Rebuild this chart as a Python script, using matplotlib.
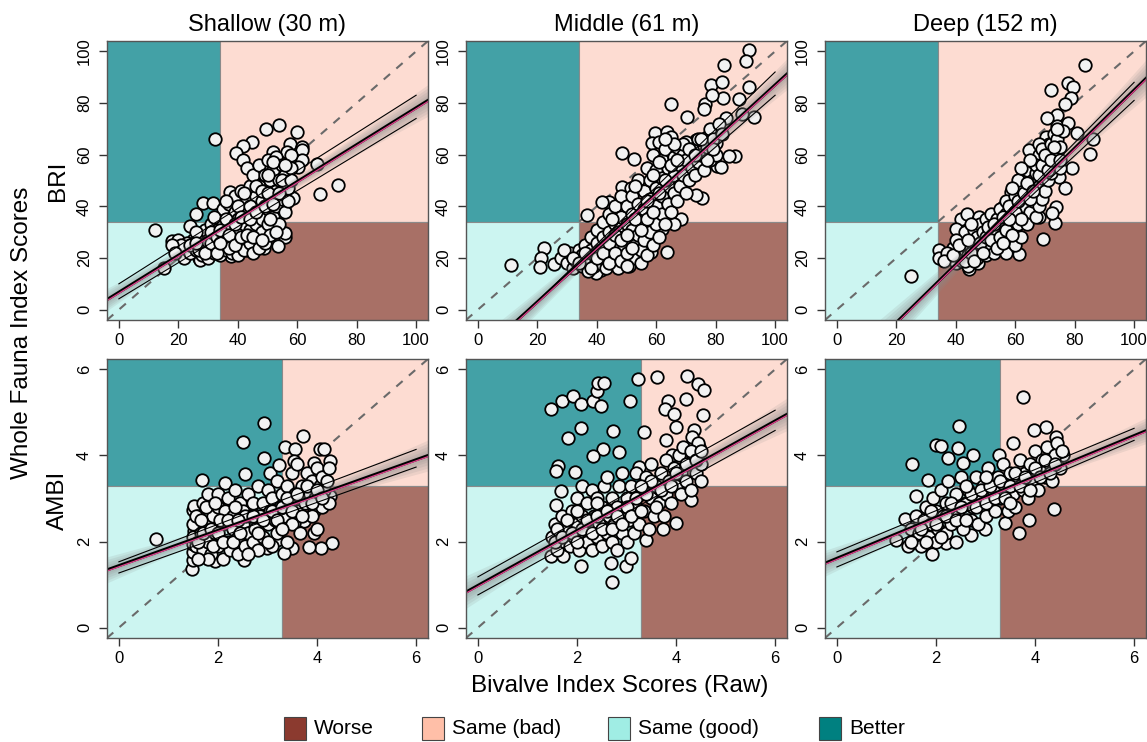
import matplotlib.pyplot as plt
import matplotlib.transforms as mtransforms
from matplotlib.patches import Rectangle
import numpy as np

plt.rcParams['font.family'] = ['Liberation Sans', 'DejaVu Sans']

depths = ['Shallow (30 m)', 'Middle (61 m)', 'Deep (152 m)']
indices = ['BRI', 'AMBI']
thresholds = [34, 3.3]
axis_ranges = [(0, 100, 20), (0, 6, 2)]

# site scores: (bivalve index, whole fauna index)
bri_shallow = [
    (32.4, 65.9), (12.3, 30.9), (15.1, 16.1), (49.4, 69.8), (53.9, 71.4), (59.8, 68.6),
    (44.7, 65.0), (41.9, 63.3), (39.4, 60.7), (57.6, 64.0), (61.5, 63.0), (61.7, 61.8),
    (61.5, 57.9), (67.7, 44.7), (73.8, 48.3), (66.6, 56.2), (58.7, 43.4), (55.9, 28.3),
    (53.4, 24.7), (48.7, 23.8), (37.5, 45.7), (28.2, 41.4), (31.5, 41.4), (26.1, 36.9),
    (24.0, 32.2), (17.9, 26.4), (20.0, 27.0), (21.8, 19.9), (26.8, 19.9), (27.4, 19.3),
    (37.8, 20.8), (43.1, 23.2), (43.1, 43.1), (41.9, 57.9), (51.8, 61.1), (54.3, 55.6),
    (56.5, 61.1), (60.2, 55.3), (48.7, 54.7), (46.4, 50.2), (49.2, 50.2), (54.3, 51.5),
    (52.0, 47.6), (50.9, 37.3), (55.4, 39.3), (55.9, 29.6),
    (22, 24), (24, 22), (25, 27), (26, 23), (27, 29), (28, 21), (28, 25), (29, 31), (30, 20),
    (30, 24), (30, 27), (31, 33), (32, 22), (32, 29), (33, 25), (33, 31), (34, 36), (34, 21),
    (35, 27), (35, 33), (35, 39), (36, 23), (36, 30), (37, 35), (37, 41), (38, 22), (38, 27),
    (38, 32), (39, 38), (39, 44), (40, 21), (40, 25), (40, 30), (40, 35), (41, 40), (41, 46),
    (42, 23), (42, 28), (42, 33), (43, 37), (43, 42), (43, 55), (44, 26), (44, 31), (44, 48),
    (45, 22), (45, 35), (45, 40), (45, 52), (46, 28), (46, 33), (46, 44), (47, 24), (47, 38),
    (47, 48), (47, 56), (48, 30), (48, 35), (48, 42), (49, 26), (49, 46), (49, 52), (50, 33),
    (50, 39), (50, 58), (51, 29), (51, 43), (51, 50), (52, 36), (52, 54), (53, 40), (53, 46),
    (53, 59), (54, 33), (54, 50), (55, 43), (55, 56), (56, 38), (56, 52), (57, 47), (58, 55),
    (58, 60), (36, 42), (32, 36), (29, 26), (26, 30), (23, 26), (21, 25), (18, 25), (19, 22),
    (24, 25), (27, 23), (29, 22), (31, 26), (31, 30), (33, 22), (33, 28), (34, 31), (36, 26),
    (36, 35), (37, 24), (37, 29), (39, 25), (39, 33), (40, 40), (41, 28), (41, 36), (42, 45),
    (43, 29), (44, 35), (44, 40), (45, 28), (46, 38), (46, 48), (48, 27), (48, 46), (49, 40),
    (50, 45), (50, 52), (51, 35), (52, 41), (52, 57), (53, 30), (54, 45), (55, 50), (56, 56),
    (57, 42), (58, 50), (26, 26), (34, 26),
]

bri_middle = [
    (11.0, 17.4), (22.2, 23.8), (21.1, 19.9), (20.9, 16.7), (25.6, 17.6), (36.8, 36.7),
    (48.6, 60.7), (52.5, 58.2), (65.1, 79.5), (70.5, 74.6), (76.3, 79.5), (78.3, 86.9),
    (82.0, 88.2), (82.8, 94.6), (91.2, 100.4), (90.3, 96.1), (91.2, 86.0), (87.9, 81.7),
    (92.9, 74.6), (88.8, 75.9), (83.4, 74.0), (82.3, 82.0), (78.9, 83.0), (76.1, 77.8),
    (86.4, 59.5), (84.5, 59.5), (80.4, 55.7), (75.5, 43.1), (73.3, 44.4), (63.7, 22.5),
    (68.2, 35.0), (66.0, 33.2), (61.8, 31.1), (58.1, 22.3), (41.3, 15.4), (39.6, 14.2),
    (48.6, 47.6), (51.4, 47.0), (44.1, 41.8), (41.9, 41.6), (59.6, 68.2), (63.7, 68.9),
    (58.7, 64.4), (73.3, 65.6), (77.2, 66.9), (80.0, 64.4), (81.7, 55.3), (54.2, 34.1),
    (55.3, 28.3), (57.6, 25.1),
    (28, 20), (30, 18), (31, 22), (32, 16), (33, 19), (34, 23), (35, 17), (35, 21), (36, 25),
    (37, 15), (37, 19), (38, 23), (38, 28), (39, 17), (39, 21), (40, 26), (40, 31), (41, 18),
    (41, 23), (42, 28), (42, 34), (43, 16), (43, 20), (43, 25), (44, 30), (44, 37), (45, 18),
    (45, 22), (45, 27), (46, 33), (46, 40), (47, 16), (47, 21), (47, 25), (47, 30), (48, 36),
    (48, 44), (49, 19), (49, 24), (49, 28), (50, 33), (50, 40), (51, 17), (51, 22), (51, 27),
    (52, 31), (52, 37), (52, 44), (53, 20), (53, 25), (54, 29), (54, 35), (54, 41), (54, 50),
    (55, 18), (55, 23), (56, 27), (56, 33), (56, 39), (56, 46), (57, 21), (57, 55), (58, 30),
    (58, 36), (58, 43), (58, 50), (59, 25), (59, 60), (60, 33), (60, 40), (60, 47), (60, 54),
    (61, 28), (61, 65), (62, 37), (62, 44), (62, 51), (62, 58), (63, 33), (63, 62), (64, 41),
    (64, 48), (64, 55), (65, 38), (65, 67), (66, 45), (66, 52), (66, 59), (67, 42), (67, 63),
    (68, 48), (68, 56), (69, 52), (69, 60), (70, 45), (70, 58), (70, 65), (71, 50), (72, 55),
    (72, 62), (73, 52), (74, 57), (74, 66), (75, 60), (76, 54), (77, 63), (78, 58), (78, 70),
    (79, 66), (80, 60), (81, 72), (82, 68),
    (29, 23), (32, 20), (34, 18), (36, 22), (38, 16), (40, 20), (42, 22), (44, 18), (44, 26),
    (46, 22), (46, 29), (48, 19), (48, 27), (50, 22), (50, 29), (52, 24), (53, 35), (55, 31),
    (57, 35), (57, 42), (59, 38), (59, 52), (61, 45), (61, 57), (63, 50), (65, 56), (67, 58),
    (69, 64), (71, 62), (73, 60), (75, 66), (77, 58), (79, 62), (66, 64), (63, 66), (50, 17),
    (45, 35), (53, 48),
]

bri_deep = [
    (24.9, 13.1), (34.2, 23.2), (34.2, 19.9), (41.7, 35.1), (43.9, 36.9), (47.9, 36.0),
    (51.8, 34.1), (40.0, 31.1), (44.3, 15.7), (47.5, 18.0), (61.3, 21.6), (69.2, 27.4),
    (73.4, 33.7), (73.7, 39.9), (76.8, 47.2), (79.0, 55.0), (80.9, 68.5), (85.1, 60.2),
    (86.3, 65.9), (83.5, 94.9), (72.2, 84.9), (77.9, 87.8), (79.3, 86.0), (78.9, 82.0),
    (76.7, 79.5), (74.2, 75.3), (70.6, 74.0), (74.2, 71.0), (77.6, 72.3), (70.3, 66.9),
    (71.4, 64.1), (64.7, 61.8), (65.3, 54.3), (62.5, 52.1), (58.5, 45.7), (55.8, 39.9),
    (64.7, 39.9), (68.1, 36.0), (72.5, 37.3), (69.7, 58.2), (72.5, 60.5), (74.8, 51.5),
    (68.0, 64.1),
    (38, 20), (39, 24), (40, 18), (41, 22), (42, 26), (42, 19), (43, 30), (43, 23), (44, 17),
    (44, 21), (45, 27), (46, 24), (46, 31), (47, 20), (47, 28), (48, 23), (48, 33), (49, 26),
    (49, 30), (50, 21), (50, 35), (51, 25), (51, 29), (52, 32), (52, 37), (53, 22), (53, 27),
    (54, 30), (54, 35), (55, 25), (55, 39), (56, 29), (56, 33), (57, 22), (57, 37), (57, 42),
    (58, 27), (58, 31), (59, 35), (59, 40), (60, 25), (60, 30), (60, 44), (61, 33), (61, 38),
    (62, 28), (62, 42), (62, 47), (63, 36), (63, 40), (63, 50), (64, 33), (64, 44), (64, 54),
    (65, 38), (65, 47), (66, 42), (66, 50), (66, 57), (67, 36), (67, 45), (67, 53), (68, 40),
    (68, 48), (68, 60), (69, 43), (69, 51), (69, 62), (70, 46), (70, 55), (71, 50), (71, 58),
    (72, 53), (72, 64), (73, 56), (73, 68), (74, 60), (74, 66), (75, 55), (75, 63), (76, 69),
    (45, 33), (40, 27), (37, 22), (36, 19), (61, 50), (59, 47),
    (39, 21), (41, 25), (43, 19), (44, 27), (45, 22), (46, 19), (48, 26), (49, 22), (50, 28),
    (51, 32), (52, 27), (53, 33), (54, 24), (55, 28), (56, 36), (57, 31), (58, 40), (59, 29),
    (60, 38), (61, 42), (62, 35), (63, 45), (64, 49), (65, 43), (66, 46), (67, 56), (68, 52),
    (69, 56), (70, 60), (71, 54), (72, 58), (73, 63), (74, 70), (75, 58), (65, 58), (62, 55),
    (58, 35), (56, 26),
]

ambi_shallow = [
    (0.74, 2.07), (2.92, 4.76), (2.50, 4.32), (2.92, 3.93), (2.55, 3.57), (3.35, 4.20),
    (3.56, 4.16), (3.71, 4.45), (4.05, 4.16), (4.15, 4.14), (4.27, 3.88), (4.31, 1.97),
    (4.07, 1.84), (3.83, 1.87), (3.49, 1.85), (3.33, 1.73), (2.99, 1.85), (2.52, 1.58),
    (1.95, 1.54), (1.48, 1.36), (1.50, 1.58), (1.68, 3.43), (2.15, 3.35), (3.73, 2.48),
    (3.53, 2.44), (3.93, 2.20), (3.93, 3.83), (3.53, 3.86), (3.06, 3.60), (3.23, 3.78),
    (4.20, 3.05), (4.27, 3.05), (3.93, 2.70), (3.19, 2.04), (1.50, 2.74), (1.51, 2.82),
    (1.50, 1.75), (1.50, 1.95), (1.52, 2.25),
    (1.50, 2.10), (1.50, 2.40), (1.55, 1.90), (1.60, 2.60), (1.65, 2.20), (1.70, 1.80),
    (1.70, 2.90), (1.75, 2.40), (1.80, 2.00), (1.80, 3.10), (1.85, 1.70), (1.90, 2.60),
    (1.95, 2.20), (2.00, 1.90), (2.00, 2.80), (2.00, 3.10), (2.10, 1.60), (2.10, 2.40),
    (2.15, 2.70), (2.20, 2.00), (2.20, 3.00), (2.25, 1.80), (2.30, 2.30), (2.30, 2.60),
    (2.35, 3.20), (2.40, 1.70), (2.40, 2.10), (2.45, 2.90), (2.50, 2.40), (2.50, 2.70),
    (2.55, 1.90), (2.60, 2.20), (2.60, 3.10), (2.65, 2.60), (2.70, 2.00), (2.70, 2.90),
    (2.75, 2.30), (2.80, 1.80), (2.80, 3.30), (2.85, 2.60), (2.90, 2.10), (2.90, 2.90),
    (3.00, 2.40), (3.00, 3.20), (3.05, 2.70), (3.10, 1.90), (3.10, 3.00), (3.15, 2.50),
    (3.20, 2.20), (3.20, 3.40), (3.25, 2.80), (3.30, 3.10), (3.35, 2.60), (3.40, 2.00),
    (3.40, 3.30), (3.45, 2.90), (3.50, 3.60), (3.50, 2.40), (3.55, 3.10), (3.60, 2.70),
    (3.60, 3.80), (3.65, 2.20), (3.70, 3.30), (3.75, 2.90), (3.80, 3.60), (3.85, 3.10),
    (3.90, 2.60), (3.90, 3.40), (3.95, 3.00), (4.00, 3.70), (4.00, 2.30), (4.05, 3.30),
    (4.10, 2.80), (4.10, 3.50), (4.15, 3.20), (4.20, 3.40), (4.25, 2.90), (4.25, 3.70),
    (1.55, 2.60), (1.60, 2.00), (1.65, 2.50), (1.70, 2.20), (1.75, 2.80), (1.80, 1.60),
    (1.85, 2.30), (1.90, 1.90), (1.95, 2.90), (2.00, 2.20), (2.05, 2.50), (2.10, 2.00),
    (2.20, 2.50), (2.30, 2.00), (2.35, 2.80), (2.45, 2.20), (2.55, 2.60), (2.60, 1.70),
    (2.70, 2.60), (2.80, 2.20), (2.90, 2.50), (3.00, 2.00), (3.10, 2.70), (3.20, 2.50),
    (3.30, 2.80), (3.40, 3.00), (3.50, 2.70), (3.60, 3.10), (3.70, 2.60), (3.80, 3.30),
    (3.90, 2.90), (4.00, 3.20), (4.10, 3.00), (3.30, 2.30), (2.40, 2.50), (1.60, 1.60),
]

ambi_middle = [
    (1.47, 5.07), (1.69, 5.26), (1.91, 5.38), (2.08, 5.20), (2.33, 5.26), (2.48, 5.14),
    (2.41, 5.49), (2.43, 5.69), (2.54, 5.68), (3.07, 5.26), (3.23, 5.78), (3.62, 5.82),
    (4.23, 5.84), (4.44, 5.65), (4.57, 5.51), (4.20, 5.30), (3.83, 5.27), (3.78, 5.07),
    (3.96, 4.97), (4.55, 4.93), (3.99, 4.66), (4.36, 4.60), (3.36, 4.55), (2.72, 4.56),
    (2.08, 4.64), (1.81, 4.41), (2.52, 4.16), (2.85, 4.09), (2.33, 3.99), (3.79, 4.36),
    (3.91, 4.01), (1.61, 3.75), (1.57, 3.65), (1.96, 3.62), (1.68, 3.18), (1.57, 2.85),
    (2.08, 1.43), (2.70, 1.06), (2.99, 1.43), (3.10, 1.62), (3.99, 2.43), (3.74, 2.29),
    (3.39, 2.03), (3.25, 3.74), (4.33, 4.42), (4.46, 4.20), (4.30, 2.97), (1.47, 1.66),
    (1.71, 1.66), (2.68, 1.50),
    (1.50, 2.10), (1.55, 2.40), (1.60, 1.80), (1.65, 2.20), (1.70, 2.60), (1.75, 2.00),
    (1.80, 2.30), (1.85, 1.90), (1.90, 2.70), (1.95, 2.10), (2.00, 2.40), (2.00, 3.00),
    (2.05, 1.80), (2.10, 2.60), (2.10, 3.30), (2.15, 2.20), (2.20, 2.00), (2.20, 2.90),
    (2.25, 2.40), (2.30, 1.80), (2.30, 3.20), (2.35, 2.60), (2.40, 2.10), (2.40, 3.00),
    (2.45, 2.40), (2.50, 1.90), (2.50, 2.80), (2.55, 3.30), (2.60, 2.20), (2.60, 3.50),
    (2.65, 2.60), (2.70, 2.00), (2.70, 3.00), (2.75, 2.40), (2.80, 1.80), (2.80, 2.80),
    (2.85, 3.30), (2.90, 2.20), (2.90, 3.60), (2.95, 2.60), (3.00, 2.00), (3.00, 3.00),
    (3.05, 2.50), (3.10, 3.30), (3.15, 2.20), (3.20, 2.80), (3.20, 3.60), (3.25, 2.40),
    (3.30, 3.10), (3.35, 2.70), (3.40, 3.50), (3.45, 2.30), (3.50, 3.00), (3.50, 3.80),
    (3.55, 2.60), (3.60, 3.30), (3.65, 2.90), (3.70, 3.60), (3.75, 2.60), (3.80, 3.10),
    (3.80, 3.90), (3.85, 3.40), (3.90, 2.90), (3.95, 3.70), (4.00, 3.30), (4.05, 4.00),
    (4.10, 3.10), (4.10, 3.60), (4.15, 4.20), (4.20, 3.40), (4.25, 3.80), (4.30, 3.20),
    (4.35, 4.00), (4.40, 3.60), (4.45, 4.30), (4.50, 3.80), (4.50, 3.40),
    (1.55, 2.00), (1.60, 2.30), (1.70, 2.10), (1.80, 2.50), (1.90, 2.20), (2.00, 2.00),
    (2.10, 2.30), (2.20, 2.50), (2.30, 2.20), (2.40, 2.60), (2.50, 2.30), (2.60, 2.70),
    (2.70, 2.30), (2.80, 2.60), (2.90, 2.40), (3.00, 2.80), (3.10, 2.60), (3.20, 3.00),
    (3.30, 2.70), (3.40, 3.10), (3.50, 3.40), (3.60, 2.80), (3.70, 3.20), (3.90, 3.30),
    (4.00, 3.60), (4.20, 3.80), (4.30, 4.10), (4.40, 3.90), (4.50, 4.10), (3.30, 3.30),
    (2.40, 2.90), (2.00, 2.70),
]

ambi_deep = [
    (3.75, 5.36), (2.46, 4.68), (4.23, 4.66), (3.98, 4.59), (2.00, 4.24), (2.10, 4.22),
    (2.44, 4.18), (1.51, 3.80), (2.25, 3.95), (2.75, 4.01), (3.27, 4.01), (3.55, 4.28),
    (2.54, 3.82), (4.42, 4.43), (4.56, 4.01), (4.39, 2.76), (3.68, 2.21), (3.88, 2.51),
    (3.39, 2.43), (1.92, 1.70), (1.43, 1.89), (1.20, 2.04), (1.38, 2.52), (1.60, 3.05),
    (1.83, 3.42), (2.20, 1.97), (2.71, 2.16), (2.98, 2.30),
    (1.50, 2.30), (1.55, 2.00), (1.60, 2.60), (1.65, 2.20), (1.70, 1.90), (1.75, 2.50),
    (1.80, 2.80), (1.85, 2.10), (1.90, 2.40), (1.95, 3.00), (2.00, 2.00), (2.00, 2.70),
    (2.05, 2.30), (2.10, 3.20), (2.15, 2.60), (2.20, 2.20), (2.20, 2.90), (2.25, 3.40),
    (2.30, 2.40), (2.35, 2.80), (2.40, 2.00), (2.40, 3.10), (2.45, 2.60), (2.50, 3.50),
    (2.55, 2.30), (2.60, 2.90), (2.65, 3.20), (2.70, 2.50), (2.75, 2.80), (2.80, 3.50),
    (2.85, 2.40), (2.90, 3.00), (2.95, 3.30), (3.00, 2.60), (3.05, 3.70), (3.10, 2.90),
    (3.15, 3.20), (3.20, 2.70), (3.25, 3.50), (3.30, 3.00), (3.35, 3.80), (3.40, 3.30),
    (3.45, 2.70), (3.50, 3.60), (3.55, 3.10), (3.60, 2.80), (3.65, 3.40), (3.70, 3.90),
    (3.75, 3.20), (3.80, 3.60), (3.85, 3.00), (3.90, 3.80), (3.95, 3.40), (4.00, 4.10),
    (4.05, 3.20), (4.10, 3.70), (4.15, 3.90), (4.20, 3.50), (4.25, 4.20), (4.30, 3.80),
    (4.35, 3.40), (4.40, 4.00), (4.45, 4.30), (4.50, 3.70), (4.55, 4.10),
    (1.50, 2.00), (1.70, 2.30), (1.80, 2.00), (1.90, 2.70), (2.00, 2.40), (2.10, 2.10),
    (2.20, 2.60), (2.30, 2.90), (2.40, 2.50), (2.50, 2.80), (2.60, 2.50), (2.70, 3.10),
    (2.80, 2.80), (2.90, 3.20), (3.00, 2.90), (3.10, 3.30), (3.20, 3.00), (3.30, 3.40),
    (3.40, 3.00), (3.50, 3.30), (3.60, 3.60), (3.70, 3.30), (3.80, 3.50), (3.90, 3.20),
    (4.00, 3.70), (4.10, 3.50), (4.20, 3.90), (4.30, 3.60), (4.40, 3.80), (3.00, 3.50),
    (2.60, 3.30), (3.50, 2.90),
]

scores = [[bri_shallow, bri_middle, bri_deep], [ambi_shallow, ambi_middle, ambi_deep]]

# fitted lines (intercept, slope) and interval lines at the ends of the index range
fit_intercept = [[6.75, -18.0, -27.5], [1.44, 0.98, 1.61]]
fit_slope = [[0.714, 1.05, 1.125], [0.41, 0.637, 0.475]]
upper_ends = [[(10, 83), (-19, 92), (-29, 88)], [(1.53, 4.14), (1.18, 5.05), (1.76, 4.63)]]
lower_ends = [[(4.2, 74), (-17, 83), (-26, 81)], [(1.27, 3.73), (0.76, 4.58), (1.41, 4.35)]]
# spread of the fitted-line envelope: centre, width at centre, growth away from centre
band_centre = [[40, 55, 60], [2.7, 3.0, 3.0]]
band_width = [[1.2, 1.2, 1.5], [0.07, 0.07, 0.07]]
band_growth = [[0.094, 0.12, 0.16], [0.10, 0.115, 0.09]]

categories = ['Worse', 'Same (bad)', 'Same (good)', 'Better']
key_colors = ['#8b3a2f', '#ffbfa8', '#a0ede4', '#008080']
quad_colors = {'Worse': '#a87066', 'Same (bad)': '#fddcd2',
               'Same (good)': '#ccf5f1', 'Better': '#43a1a6'}

W, H = 1147, 742
fig = plt.figure(figsize=(W / 100, H / 100), dpi=100)

col_left = [107, 466, 825]
row_top = [41, 359]
ax_w, ax_h = 321, 279

for r in range(2):
    lo, hi, step = axis_ranges[r]
    pad = 0.04 * (hi - lo)
    lim = (lo - pad, hi + pad)
    thr = thresholds[r]
    for c in range(3):
        ax = fig.add_axes([col_left[c] / W, (H - row_top[r] - ax_h) / H, ax_w / W, ax_h / H])
        ax.set_xlim(lim)
        ax.set_ylim(lim)

        a, b = lim[0] - pad, lim[1] + pad
        quads = [('Better', a, thr, thr, b), ('Same (bad)', thr, thr, b, b),
                 ('Same (good)', a, a, thr, thr), ('Worse', thr, a, b, thr)]
        for name, x0, y0, x1, y1 in quads:
            ax.add_patch(Rectangle((x0, y0), x1 - x0, y1 - y0, facecolor=quad_colors[name],
                                   edgecolor='#8a8a8a', lw=0.8, zorder=0))

        ax.plot(lim, lim, color='#6a6a6a', lw=1.5, ls=(0, (4, 4)), zorder=1)

        pts = np.array(scores[r][c])
        ax.plot(pts[:, 0], pts[:, 1], 'o', ms=9, mfc='#f2f2f2', mec='black',
                mew=1.3, zorder=2)

        xs = np.linspace(lim[0], lim[1], 200)
        yfit = fit_intercept[r][c] + fit_slope[r][c] * xs
        half = np.sqrt(band_width[r][c] ** 2 + (band_growth[r][c] * (xs - band_centre[r][c])) ** 2)
        for f in [1.0, 0.8, 0.6, 0.4, 0.25]:
            ax.fill_between(xs, yfit - f * half, yfit + f * half, color='#8c8c8c',
                            alpha=0.15, lw=0, zorder=3)

        ax.plot([lo, hi], upper_ends[r][c], color='black', lw=0.8, zorder=4)
        ax.plot([lo, hi], lower_ends[r][c], color='black', lw=0.8, zorder=4)
        ax.plot(xs, yfit, color='black', lw=2.2, zorder=5)
        shifted = mtransforms.offset_copy(ax.transData, fig=fig, y=-0.8, units='points')
        ax.plot(xs, yfit, color='#e0408c', lw=0.9, zorder=6, transform=shifted)

        ticks = np.arange(lo, hi + step / 2, step)
        ax.set_xticks(ticks)
        ax.set_yticks(ticks)
        ax.set_xticklabels([f'{t:g}' for t in ticks])
        ax.set_yticklabels([f'{t:g}' for t in ticks], rotation=90, va='center')
        ax.tick_params(axis='both', direction='out', length=5.8, width=1, labelsize=12,
                       color='#333333')
        ax.tick_params(axis='x', pad=3.5)
        ax.tick_params(axis='y', pad=5)
        for s in ax.spines.values():
            s.set_color('#555555')
            s.set_linewidth(1)
            s.set_zorder(7)

        if r == 0:
            ax.set_title(depths[c], fontsize=17, pad=7)

fig.text(58 / W, 1 - 181 / H, indices[0], rotation=90, ha='center', va='center', fontsize=17.5)
fig.text(58 / W, 1 - 500 / H, indices[1], rotation=90, ha='center', va='center', fontsize=17.5)
fig.text(22 / W, 1 - 333 / H, 'Whole Fauna Index Scores', rotation=90, ha='center',
         va='center', fontsize=17.5)
fig.text(620 / W, 1 - 686 / H, 'Bivalve Index Scores (Raw)', ha='center', va='center',
         fontsize=17.5)

# legend row under the panels
key_x = [284, 422, 608, 819]
for name, color, x in zip(categories, key_colors, key_x):
    fig.patches.append(Rectangle((x / W, 1 - 740 / H), 22 / W, 23 / H, facecolor=color,
                                 edgecolor='#444444', lw=0.8, transform=fig.transFigure))
    fig.text((x + 30) / W, 1 - 729 / H, name, ha='left', va='center', fontsize=15)

fig.savefig('out.png', dpi=100)
